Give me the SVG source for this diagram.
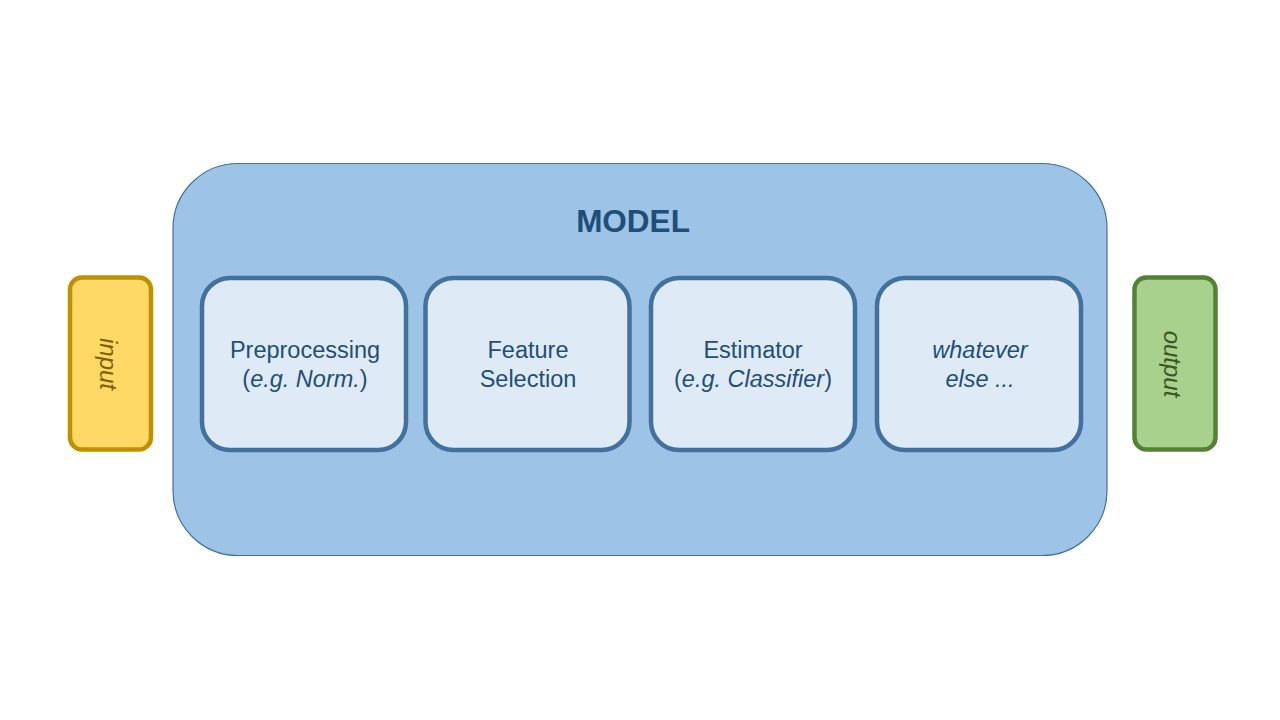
<svg xmlns="http://www.w3.org/2000/svg" width="1280" height="720" viewBox="0 0 1280 720">
  <style>
    .stage { fill: #deebf7; stroke: #41719c; stroke-width: 4.5; }
    .lbl { font-family: "Liberation Sans", Arial, sans-serif; font-size: 23.5px; fill: #1f4e79; text-anchor: middle; }
    .it { font-style: italic; }
    .side { font-family: "Liberation Sans", Arial, sans-serif; font-size: 24px; font-style: italic; text-anchor: middle; dominant-baseline: central; }
  </style>
  <rect width="1280" height="720" fill="#ffffff"/>

  <g id="model">
    <rect x="173" y="163.5" width="934" height="392" rx="65" ry="65" fill="#9dc3e6" stroke="#41719c" stroke-width="1.2"/>
    <text x="633" y="232" font-family="Liberation Sans, Arial, sans-serif" font-size="31.5" font-weight="bold" fill="#1f4e79" text-anchor="middle">MODEL</text>
  </g>

  <g id="input">
    <rect x="70" y="277.5" width="81" height="172" rx="12" ry="12" fill="#ffd966" stroke="#bf9000" stroke-width="4.5"/>
    <text class="side" transform="translate(108,364) rotate(90)" fill="#7f6000">input</text>
  </g>

  <g id="preprocessing">
    <rect class="stage" x="202" y="278" width="204" height="172" rx="28" ry="28"/>
    <text class="lbl" x="305" y="358">Preprocessing</text>
    <text class="lbl" x="305" y="387">(<tspan class="it">e.g. Norm.</tspan>)</text>
  </g>

  <g id="feature-selection">
    <rect class="stage" x="425.5" y="278" width="204" height="172" rx="28" ry="28"/>
    <text class="lbl" x="528" y="358">Feature</text>
    <text class="lbl" x="528" y="387">Selection</text>
  </g>

  <g id="estimator">
    <rect class="stage" x="651" y="278" width="204" height="172" rx="28" ry="28"/>
    <text class="lbl" x="753" y="358">Estimator</text>
    <text class="lbl" x="753" y="387">(<tspan class="it">e.g. Classifier</tspan>)</text>
  </g>

  <g id="whatever-else">
    <rect class="stage" x="877" y="278" width="204" height="172" rx="28" ry="28"/>
    <text class="lbl it" x="980" y="358">whatever</text>
    <text class="lbl it" x="980" y="387">else ...</text>
  </g>

  <g id="output">
    <rect x="1134.5" y="277.5" width="81" height="172" rx="12" ry="12" fill="#a9d18e" stroke="#548235" stroke-width="4.5"/>
    <text class="side" transform="translate(1172,364) rotate(90)" fill="#385723">output</text>
  </g>

  <g id="connectors"></g>
</svg>
